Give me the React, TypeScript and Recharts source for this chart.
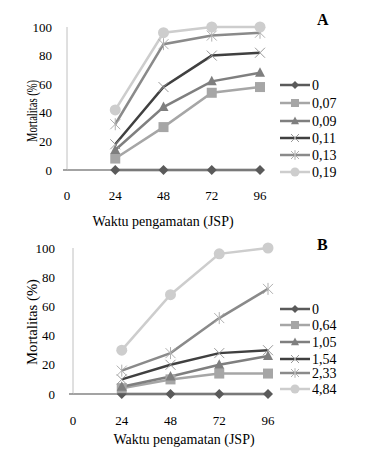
import React from 'react'
import { LineChart, Line, XAxis, YAxis } from 'recharts'

// observation times (JSP) and y ticks
const hours = [24, 48, 72, 96]
const xTicks = [0, 24, 48, 72, 96]
const yTicks = [0, 20, 40, 60, 80, 100]

// panel A doses and mortality (%)
const dosesA = ['0', '0,07', '0,09', '0,11', '0,13', '0,19']
const mortA0 = [0, 0, 0, 0]
const mortA007 = [8, 30, 54, 58]
const mortA009 = [14, 44, 62, 68]
const mortA011 = [18, 58, 80, 82]
const mortA013 = [32, 88, 94, 96]
const mortA019 = [42, 96, 100, 100]

// panel B doses and mortality (%)
const dosesB = ['0', '0,64', '1,05', '1,54', '2,33', '4,84']
const mortB0 = [0, 0, 0, 0]
const mortB064 = [4, 10, 14, 14]
const mortB105 = [5, 12, 20, 26]
const mortB154 = [10, 20, 28, 30]
const mortB233 = [16, 28, 52, 72]
const mortB484 = [30, 68, 96, 100]

type Shape = 'diamond' | 'square' | 'triangle' | 'cross' | 'star' | 'circle'

const seriesStyle: { color: string; mark: string; shape: Shape }[] = [
  { color: '#5a5a5a', mark: '#5a5a5a', shape: 'diamond' },
  { color: '#a6a6a6', mark: '#a6a6a6', shape: 'square' },
  { color: '#7f7f7f', mark: '#7f7f7f', shape: 'triangle' },
  { color: '#404040', mark: '#9a9a9a', shape: 'cross' },
  { color: '#8a8a8a', mark: '#b0b0b0', shape: 'star' },
  { color: '#cdcdcd', mark: '#cdcdcd', shape: 'circle' }
]

const font = 'Liberation Serif'

const Marker = ({ shape, x, y, color, s }: { shape: Shape; x: number; y: number; color: string; s: number }) => {
  switch (shape) {
    case 'diamond':
      return <polygon points={`${x},${y - s} ${x + s},${y} ${x},${y + s} ${x - s},${y}`} fill={color} />
    case 'square':
      return <rect x={x - s} y={y - s} width={2 * s} height={2 * s} fill={color} />
    case 'triangle':
      return <polygon points={`${x},${y - s * 1.1} ${x + s},${y + s * 0.8} ${x - s},${y + s * 0.8}`} fill={color} />
    case 'cross':
      return (
        <g stroke={color} strokeWidth={1}>
          <line x1={x - s} y1={y - s} x2={x + s} y2={y + s} />
          <line x1={x - s} y1={y + s} x2={x + s} y2={y - s} />
        </g>
      )
    case 'star':
      return (
        <g stroke={color} strokeWidth={1}>
          <line x1={x - s} y1={y - s} x2={x + s} y2={y + s} />
          <line x1={x - s} y1={y + s} x2={x + s} y2={y - s} />
          <line x1={x} y1={y - s * 1.2} x2={x} y2={y + s * 1.2} />
        </g>
      )
    default:
      return <circle cx={x} cy={y} r={s} fill={color} />
  }
}

interface PanelProps {
  letter: string
  names: string[]
  values: number[][]
  height: number
  top: number
  plotLeft: number
  plotRight: number
  plotBottom: number
  tickGap: number
  xTickMargin: number
  yLabel: { x: number; y: number; len: number }
  xLabel: { x: number; y: number }
  letterY: number
  legendRows: number[]
}

const W = 370

const Panel = (p: PanelProps) => {
  const H = p.height
  const rows = hours.map((h, i) => {
    const r: Record<string, number> = { t: h }
    p.names.forEach((n, k) => (r[n] = p.values[k][i]))
    return r
  })
  return (
    <div style={{ position: 'relative', width: W, height: H, fontFamily: font }}>
      <LineChart
        width={W}
        height={H}
        data={rows}
        margin={{ top: p.top, right: W - p.plotRight, bottom: 0, left: 0 }}
      >
        <XAxis
          dataKey="t"
          type="number"
          domain={[0, 96]}
          ticks={xTicks}
          height={H - p.plotBottom}
          tickLine={false}
          tickMargin={p.xTickMargin}
          axisLine={{ stroke: '#858585', strokeWidth: 1.5 }}
          tick={{ fill: '#000', fontSize: 13, fontFamily: font }}
          label={{
            content: () => (
              <text x={p.xLabel.x} y={p.xLabel.y} textAnchor="middle" fontSize={14} fontFamily={font} fill="#000">
                Waktu pengamatan (JSP)
              </text>
            )
          }}
        />
        <YAxis
          type="number"
          domain={[0, 100]}
          ticks={yTicks}
          width={p.plotLeft}
          tickSize={0}
          tickLine={false}
          tickMargin={p.tickGap}
          axisLine={{ stroke: '#c0c0c0', strokeWidth: 1 }}
          tick={{ fill: '#000', fontSize: 13, fontFamily: font }}
          label={{
            content: () => (
              <text
                x={p.yLabel.x}
                y={p.yLabel.y}
                transform={`rotate(-90 ${p.yLabel.x} ${p.yLabel.y})`}
                textAnchor="middle"
                dominantBaseline="central"
                fontSize={14}
                fontFamily={font}
                fill="#000"
                textLength={p.yLabel.len}
                lengthAdjust="spacingAndGlyphs"
              >
                Mortalitas (%)
              </text>
            )
          }}
        />
        {p.names.map((n, k) => {
          const st = seriesStyle[k]
          return (
            <Line
              key={n}
              dataKey={n}
              stroke={st.color}
              strokeWidth={2.5}
              isAnimationActive={false}
              activeDot={false}
              dot={(d: any) => (
                <g key={`${n}-${d.index}`}>
                  <Marker shape={st.shape} x={d.cx} y={d.cy} color={st.mark} s={st.shape === 'circle' ? 5.5 : 5} />
                </g>
              )}
            />
          )
        })}
      </LineChart>
      <div
        style={{
          position: 'absolute',
          left: 317,
          top: p.letterY - 9,
          fontSize: 16,
          fontWeight: 'bold',
          lineHeight: '18px'
        }}
      >
        {p.letter}
      </div>
      <svg width={W} height={H} style={{ position: 'absolute', left: 0, top: 0, pointerEvents: 'none' }}>
        {/* small tick left of the y axis at zero */}
        <line x1={p.plotLeft - 4} y1={p.plotBottom} x2={p.plotLeft} y2={p.plotBottom} stroke="#858585" strokeWidth={1.5} />
        {p.names.map((n, k) => {
          const st = seriesStyle[k]
          const y = p.legendRows[k]
          return (
            <g key={n}>
              <line x1={280} y1={y} x2={310} y2={y} stroke={st.color} strokeWidth={2.5} />
              <Marker shape={st.shape} x={295} y={y} color={st.mark} s={st.shape === 'circle' ? 4.5 : 4} />
              <text x={312} y={y} dominantBaseline="central" fontSize={14} fontFamily={font} fill="#000">
                {n}
              </text>
            </g>
          )
        })}
      </svg>
    </div>
  )
}

export default function App() {
  return (
    <div style={{ position: 'absolute', left: 0, top: 0, width: 370, height: 456, background: '#fff' }}>
      <Panel
        letter="A"
        names={dosesA}
        values={[mortA0, mortA007, mortA009, mortA011, mortA013, mortA019]}
        height={236}
        top={27}
        plotLeft={67}
        plotRight={260}
        plotBottom={170}
        tickGap={15}
        xTickMargin={15}
        yLabel={{ x: 32, y: 111, len: 62 }}
        xLabel={{ x: 163, y: 226 }}
        letterY={20}
        legendRows={[85, 103, 121, 138, 155, 172]}
      />
      <Panel
        letter="B"
        names={dosesB}
        values={[mortB0, mortB064, mortB105, mortB154, mortB233, mortB484]}
        height={220}
        top={12}
        plotLeft={73}
        plotRight={268}
        plotBottom={158}
        tickGap={18}
        xTickMargin={16}
        yLabel={{ x: 32, y: 86, len: 86 }}
        xLabel={{ x: 184, y: 208 }}
        letterY={9}
        legendRows={[73, 89, 106, 123, 137, 153]}
      />
    </div>
  )
}
